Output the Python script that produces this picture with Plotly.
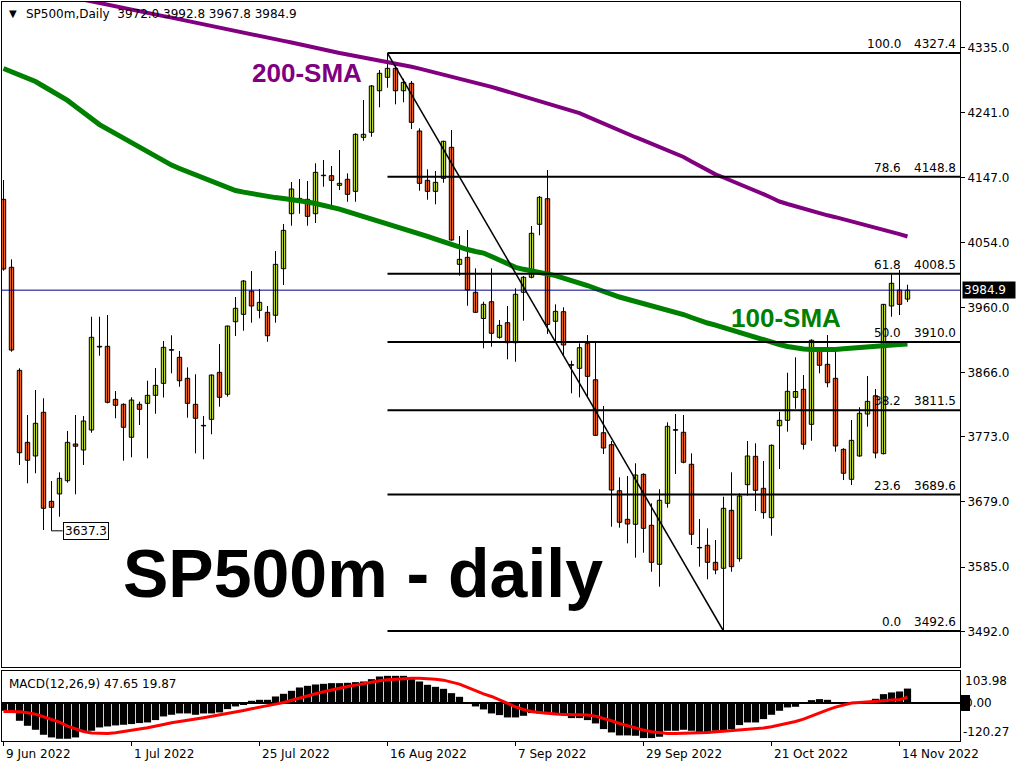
import plotly.graph_objects as go

# ── data ───────────────────────────────────────────────────────────────────
OPEN = [4116.1, 4017.9, 3869.1, 3765.1, 3745.4, 3808.5, 3679.9, 3690.5, 3709.7, 3762.7,
        3754.0, 3782.9, 3903.8, 3903.8, 3827.2, 3820.0, 3772.4, 3820.0, 3821.4, 3833.0,
        3850.3, 3899.0, 3887.9, 3857.6, 3820.0, 3789.6, 3798.3, 3866.2, 3834.5, 3939.3,
        3950.0, 3983.7, 3955.8, 3952.9, 3948.6, 4015.9, 4095.3, 4117.5, 4116.1, 4095.3,
        4150.9, 4150.2, 4136.3, 4145.0, 4127.6, 4205.6, 4212.9, 4272.9, 4292.3, 4305.3,
        4272.9, 4283.6, 4214.8, 4143.5, 4127.6, 4146.4, 4191.2, 4022.2, 4032.3, 3981.8,
        3943.9, 3968.2, 3916.8, 3937.9, 3909.0, 3981.8, 4003.5, 4080.0, 4117.0, 3939.9,
        3953.8, 3877.3, 3872.0, 3908.1, 3855.5, 3779.0, 3761.7, 3695.2, 3653.9, 3646.7,
        3718.9, 3645.3, 3588.9, 3677.0, 3783.4, 3779.6, 3733.4, 3613.3, 3616.4, 3591.8,
        3583.2, 3666.9, 3597.0, 3703.9, 3744.9, 3698.7, 3656.2, 3789.1, 3796.9, 3830.1,
        3841.7, 3791.1, 3896.6, 3877.8, 3857.6, 3755.0, 3711.7, 3745.4, 3806.0, 3832.4,
        3748.7, 3962.0, 3985.1, 3972.0]
HIGH = [4144.0, 4029.4, 3872.0, 3804.6, 3840.7, 3828.7, 3709.2, 3721.8, 3781.5, 3804.6,
        3803.1, 3946.5, 3946.5, 3949.0, 3839.2, 3821.4, 3830.1, 3823.8, 3854.1, 3872.4,
        3911.4, 3919.7, 3897.0, 3873.4, 3863.4, 3803.1, 3863.0, 3907.1, 3933.5, 3975.0,
        3999.5, 4012.5, 3986.5, 3962.0, 4041.4, 4080.4, 4141.1, 4145.4, 4142.5, 4168.1,
        4172.9, 4164.2, 4187.3, 4153.6, 4211.4, 4259.5, 4281.2, 4302.8, 4327.4, 4311.5,
        4290.3, 4287.0, 4218.6, 4159.4, 4157.0, 4200.7, 4216.2, 4063.1, 4071.7, 4016.4,
        3968.2, 4016.4, 3941.8, 3962.0, 3987.6, 4005.3, 4077.5, 4120.9, 4158.4, 3964.4,
        3960.1, 3883.0, 3908.1, 3920.1, 3909.0, 3817.6, 3767.0, 3714.6, 3716.5, 3734.8,
        3720.4, 3677.0, 3697.3, 3794.0, 3806.0, 3804.6, 3749.2, 3654.4, 3640.9, 3624.0,
        3686.6, 3721.8, 3691.5, 3767.0, 3763.7, 3738.1, 3762.0, 3809.3, 3865.6, 3887.9,
        3862.3, 3913.9, 3899.5, 3920.1, 3896.6, 3756.5, 3797.4, 3815.7, 3860.9, 3842.1,
        3964.9, 4009.2, 4014.0, 3992.8]
LOW = [4013.0, 3896.0, 3732.4, 3705.9, 3720.4, 3638.5, 3637.3, 3657.7, 3706.8, 3690.0,
       3732.4, 3779.0, 3890.2, 3821.4, 3799.8, 3738.6, 3743.5, 3790.1, 3742.0, 3806.4,
       3829.8, 3864.8, 3845.4, 3800.7, 3749.2, 3740.6, 3776.7, 3816.6, 3831.0, 3918.7,
       3926.3, 3937.9, 3944.2, 3910.4, 3937.9, 3992.3, 4078.0, 4095.3, 4078.0, 4081.9,
       4134.3, 4101.7, 4129.5, 4112.6, 4112.6, 4200.7, 4206.5, 4249.0, 4277.3, 4253.3,
       4256.2, 4217.6, 4128.5, 4115.5, 4108.9, 4140.1, 4056.3, 4005.8, 3962.4, 3951.9,
       3900.9, 3903.2, 3914.8, 3885.0, 3881.5, 3940.8, 4002.0, 4064.1, 3921.6, 3909.0,
       3891.2, 3835.9, 3830.1, 3830.1, 3774.2, 3748.2, 3643.2, 3641.8, 3619.2, 3598.5,
       3605.7, 3578.2, 3556.6, 3670.7, 3719.4, 3734.8, 3616.8, 3585.5, 3567.3, 3574.5,
       3492.6, 3578.2, 3592.7, 3688.0, 3665.9, 3654.8, 3630.2, 3726.6, 3780.5, 3813.6,
       3754.7, 3767.4, 3864.8, 3844.6, 3751.6, 3710.7, 3703.4, 3744.3, 3787.7, 3742.0,
       3747.8, 3946.5, 3949.0, 3967.8]
CLOSE = [4015.4, 3898.4, 3750.1, 3739.2, 3792.6, 3669.8, 3671.2, 3713.1, 3765.1, 3759.4,
         3795.9, 3916.8, 3902.8, 3822.9, 3818.6, 3786.8, 3826.2, 3812.8, 3833.0, 3847.4,
         3902.3, 3898.2, 3854.1, 3821.4, 3799.8, 3788.8, 3862.3, 3830.1, 3933.1, 3958.7,
         3998.1, 3962.0, 3967.3, 3919.1, 4022.2, 4071.3, 4131.0, 4116.1, 4091.5, 4155.1,
         4150.2, 4143.5, 4139.2, 4123.3, 4210.0, 4210.0, 4279.8, 4298.1, 4305.3, 4272.9,
         4285.1, 4227.3, 4139.2, 4127.6, 4140.6, 4199.9, 4057.3, 4029.4, 3985.1, 3952.9,
         3964.4, 3922.6, 3934.1, 3909.0, 3978.9, 4003.5, 4067.0, 4119.0, 3935.5, 3954.3,
         3905.7, 3876.5, 3901.8, 3860.4, 3775.2, 3756.9, 3696.2, 3649.6, 3647.1, 3717.9,
         3640.9, 3591.8, 3681.4, 3788.2, 3782.6, 3736.3, 3632.3, 3612.6, 3591.8, 3580.7,
         3669.8, 3585.5, 3687.6, 3745.4, 3695.8, 3663.5, 3760.8, 3796.9, 3838.8, 3838.5,
         3762.3, 3912.5, 3876.4, 3851.2, 3759.8, 3720.4, 3768.0, 3807.0, 3824.3, 3749.7,
         3964.4, 3994.8, 3964.4, 3984.9]

# 200-SMA is above the visible range for the first bars
SMA200 = [None] * 10 + [
    4404.4, 4401.9, 4399.6, 4397.2, 4394.7, 4392.4, 4389.9, 4387.6, 4385.3, 4383.0,
    4380.7, 4378.5, 4376.2, 4373.9, 4371.6, 4369.3, 4366.8, 4364.4, 4361.9, 4359.6,
    4357.2, 4354.7, 4352.4, 4350.0, 4347.3, 4344.9, 4342.5, 4339.8, 4337.4, 4334.8,
    4332.3, 4329.7, 4327.5, 4325.4, 4323.3, 4321.2, 4319.0, 4316.9, 4314.7, 4312.7,
    4310.4, 4307.6, 4304.9, 4302.1, 4299.2, 4296.5, 4293.7, 4290.9, 4288.1, 4285.2,
    4282.0, 4278.6, 4275.1, 4271.7, 4268.2, 4264.7, 4261.4, 4257.9, 4254.5, 4251.0,
    4247.6, 4244.1, 4240.6, 4235.5, 4230.4, 4225.0, 4219.7, 4214.9, 4210.4, 4205.8,
    4201.3, 4196.7, 4192.1, 4187.3, 4182.7, 4177.3, 4170.8, 4164.5, 4158.1, 4152.2,
    4147.6, 4143.0, 4138.6, 4134.0, 4128.8, 4123.5, 4118.3, 4112.9, 4109.3, 4105.9,
    4102.4, 4098.8, 4095.9, 4093.0, 4090.3, 4087.4, 4084.6, 4081.7, 4078.7, 4075.8,
    4072.8, 4069.3, 4065.8, 4062.4]
SMA100 = [4305.0, 4300.5, 4296.2, 4291.7, 4286.2, 4279.4, 4272.7, 4265.9, 4258.9, 4250.3,
          4241.5, 4232.8, 4224.0, 4217.4, 4211.0, 4204.6, 4198.1, 4191.5, 4184.7, 4177.9,
          4171.1, 4165.5, 4160.7, 4156.1, 4151.4, 4146.7, 4142.0, 4137.3, 4132.7, 4128.8,
          4126.5, 4124.3, 4122.0, 4119.7, 4118.6, 4117.4, 4116.2, 4114.4, 4112.2, 4110.0,
          4107.9, 4105.3, 4101.9, 4098.4, 4094.9, 4091.4, 4088.1, 4084.8, 4081.7, 4078.0,
          4074.2, 4070.6, 4066.7, 4062.5, 4058.5, 4054.4, 4050.1, 4046.5, 4043.6, 4040.7,
          4038.5, 4033.5, 4027.7, 4021.9, 4017.9, 4015.0, 4012.8, 4010.7, 4009.1, 4005.9,
          4002.4, 3999.1, 3995.8, 3991.6, 3987.3, 3982.9, 3978.6, 3975.0, 3971.8, 3968.9,
          3965.9, 3963.0, 3959.4, 3955.8, 3952.6, 3949.7, 3945.4, 3941.0, 3937.4, 3934.5,
          3930.9, 3927.3, 3923.3, 3919.4, 3915.8, 3912.2, 3909.3, 3906.4, 3903.5, 3901.3,
          3899.9, 3899.2, 3898.7, 3898.7, 3899.2, 3900.2, 3901.3, 3902.3, 3903.4, 3904.2,
          3905.1, 3905.7, 3906.4, 3907.1]

MACD = [-23.5, -28.8, -55.5, -71.5, -84.3, -100.3, -108.8, -113.1, -113.1, -108.8,
        -91.7, -87.5, -76.8, -73.6, -70.4, -68.3, -66.1, -62.9, -60.8, -53.3,
        -41.6, -36.3, -32.0, -32.0, -36.3, -32.0, -32.0, -28.8, -18.1, -9.6,
        -2.0, 8.5, 11.7, 11.7, 22.4, 30.9, 40.5, 51.2, 56.5, 60.8,
        62.9, 65.1, 65.1, 66.1, 68.3, 70.4, 77.9, 86.4, 88.5, 88.5,
        88.5, 77.9, 70.4, 59.7, 53.3, 46.9, 33.1, 21.3, 4.3, -9.6,
        -19.2, -32.0, -37.3, -44.8, -44.8, -39.5, -30.9, -32.0, -34.1, -34.1,
        -36.3, -46.9, -46.9, -53.3, -64.0, -82.1, -92.8, -102.4, -102.4, -103.5,
        -110.9, -110.9, -106.7, -87.5, -87.5, -84.3, -87.5, -92.8, -92.8, -87.5,
        -89.6, -82.1, -69.3, -60.8, -60.8, -50.1, -36.3, -23.5, -12.8, -10.7,
        3.2, 10.7, 13.9, 11.7, 4.3, -1.5, 1.0, 2.0, 4.0, 14.9,
        29.9, 35.2, 38.4, 47.65]
SIGNAL = [-25.6, -25.6, -26.7, -29.9, -34.1, -42.7, -51.2, -59.7, -72.5, -82.1,
          -89.6, -94.9, -96.0, -96.0, -93.9, -90.7, -85.3, -82.1, -77.9, -73.6,
          -67.2, -61.9, -58.7, -54.4, -50.1, -45.9, -41.6, -37.3, -32.0, -27.7,
          -22.4, -17.1, -12.8, -7.5, -2.1, 3.2, 10.7, 17.9, 24.5, 30.9,
          37.3, 43.7, 50.1, 54.4, 58.7, 64.0, 68.3, 72.5, 75.7, 77.9,
          80.0, 81.1, 81.1, 80.0, 77.9, 74.7, 69.3, 61.9, 51.2, 40.5,
          30.9, 22.4, 10.7, -0.5, -10.7, -19.2, -25.6, -28.8, -32.0, -34.1,
          -35.2, -35.2, -36.3, -37.3, -40.5, -46.9, -55.5, -64.0, -71.5, -78.9,
          -85.3, -90.7, -93.9, -96.0, -96.0, -96.0, -94.9, -93.9, -92.8, -90.7,
          -89.6, -87.5, -85.3, -84.3, -82.1, -78.9, -74.7, -69.3, -62.9, -57.6,
          -50.1, -39.5, -28.8, -20.3, -11.7, -4.3, 1.1, 3.2, 4.3, 6.4,
          8.5, 10.7, 11.7, 19.87]

FIB_PCT = [100.0, 78.6, 61.8, 50.0, 38.2, 23.6, 0.0]
FIB_LEVELS = [4327.4, 4148.8, 4008.5, 3910.0, 3811.5, 3689.6, 3492.6]

PRICE_TICKS = [4335.0, 4241.0, 4147.0, 4054.0, 3960.0, 3866.0, 3773.0, 3679.0, 3585.0, 3492.0]
MACD_LABELS = ["103.98", "0.00", "-120.27"]
DATE_IDX = [0, 16, 32, 48, 64, 80, 96, 112]
DATE_LABELS = ["9 Jun 2022", "1 Jul 2022", "25 Jul 2022", "16 Aug 2022",
               "7 Sep 2022", "29 Sep 2022", "21 Oct 2022", "14 Nov 2022"]

# ── style ─────────────────────────────────────────────────────────────────
UP = "#BDD630"
DOWN = "#EC5F23"
PURPLE = "#800080"
GREEN = "#008000"
NAVY = "#000080"
FONT = "DejaVu Sans"
BIG = "Liberation Sans"

W, H = 1024, 768
PL, PR, PT, PB = 2, 960, 2, 741       # plot area in px
MAIN_BOTTOM, MACD_TOP = 667, 671
X_RANGE = [-0.1875, 119.5625]
Y_RANGE = [3440.6, 4401.1]
MACD_RANGE = [-120.27, 103.98]


def px_x(p):
    return (p - PL) / (PR - PL)


def px_y(p):
    return (PB - p) / (PB - PT)


idx = list(range(len(OPEN)))

fig = go.Figure()

# wicks
wx, wy = [], []
for i in idx:
    wx += [i, i, None]
    wy += [LOW[i], HIGH[i], None]
fig.add_trace(go.Scatter(x=wx, y=wy, mode="lines", line=dict(color="black", width=1),
                         hoverinfo="skip", xaxis="x", yaxis="y"))

# bodies
up = [i for i in idx if CLOSE[i] >= OPEN[i]]
dn = [i for i in idx if CLOSE[i] < OPEN[i]]
fig.add_trace(go.Bar(x=up, y=[CLOSE[i] - OPEN[i] for i in up], base=[OPEN[i] for i in up],
                     width=0.55, marker=dict(color=UP, line=dict(color="black", width=1)),
                     xaxis="x", yaxis="y"))
fig.add_trace(go.Bar(x=dn, y=[OPEN[i] - CLOSE[i] for i in dn], base=[CLOSE[i] for i in dn],
                     width=0.55, marker=dict(color=DOWN, line=dict(color="black", width=1)),
                     xaxis="x", yaxis="y"))

# moving averages
fig.add_trace(go.Scatter(x=idx, y=SMA200, mode="lines", line=dict(color=PURPLE, width=4),
                         xaxis="x", yaxis="y"))
fig.add_trace(go.Scatter(x=idx, y=SMA100, mode="lines", line=dict(color=GREEN, width=5),
                         xaxis="x", yaxis="y"))

# MACD
fig.add_trace(go.Bar(x=idx, y=MACD, width=0.9, marker=dict(color="black", line=dict(width=0)),
                     xaxis="x2", yaxis="y2"))
fig.add_trace(go.Scatter(x=idx, y=SIGNAL, mode="lines", line=dict(color="#FF0000", width=3),
                         xaxis="x2", yaxis="y2"))

# ── fibonacci retracement ─────────────────────────────────────────────────
hi_i = max(idx, key=lambda i: HIGH[i])
lo_i = min(idx, key=lambda i: LOW[i])
shapes = []
annotations = []
for pct, lvl in zip(FIB_PCT, FIB_LEVELS):
    shapes.append(dict(type="line", xref="x", yref="y", x0=hi_i, x1=X_RANGE[1], y0=lvl, y1=lvl,
                       line=dict(color="black", width=2)))
    annotations.append(dict(xref="paper", yref="y", x=px_x(903), y=lvl, xanchor="right",
                            yanchor="bottom", text=f"{pct:.1f}", showarrow=False,
                            font=dict(family=FONT, size=12, color="black")))
    annotations.append(dict(xref="paper", yref="y", x=px_x(958), y=lvl, xanchor="right",
                            yanchor="bottom", text=f"{lvl:.1f}", showarrow=False,
                            font=dict(family=FONT, size=12, color="black")))
shapes.append(dict(type="line", xref="x", yref="y", x0=hi_i, y0=HIGH[hi_i], x1=lo_i, y1=LOW[lo_i],
                   line=dict(color="black", width=1.5)))

# current price line + tag
last = CLOSE[-1]
shapes.append(dict(type="line", xref="x domain", yref="y", x0=0, x1=1, y0=last, y1=last,
                   line=dict(color=NAVY, width=1)))
annotations.append(dict(xref="paper", yref="y", x=px_x(962), y=last, xanchor="left",
                        yanchor="middle", text=f"{last:.1f}", showarrow=False, bgcolor="black",
                        width=50, align="left", borderpad=1,
                        font=dict(family=FONT, size=12, color="white")))

# early swing-low label
sl = min(range(30), key=lambda i: LOW[i])
shapes.append(dict(type="line", xref="x", yref="y", x0=sl, x1=sl + 1.4, y0=LOW[sl], y1=LOW[sl],
                   line=dict(color="black", width=1)))
annotations.append(dict(xref="x", yref="y", x=sl + 1.4, y=LOW[sl], xanchor="left",
                        yanchor="middle", text=f"{LOW[sl]:.1f}", showarrow=False,
                        bgcolor="white", bordercolor="black", borderwidth=1, borderpad=1,
                        font=dict(family=FONT, size=12, color="black")))

# header texts
annotations.append(dict(xref="paper", yref="paper", x=px_x(7), y=px_y(14), xanchor="left",
                        yanchor="middle", text="▼", showarrow=False,
                        font=dict(family=FONT, size=10, color="black")))
annotations.append(dict(xref="paper", yref="paper", x=px_x(24), y=px_y(14), xanchor="left",
                        yanchor="middle", showarrow=False,
                        text=f"SP500m,Daily  {OPEN[-1]:.1f} {HIGH[-1]:.1f} {LOW[-1]:.1f} {CLOSE[-1]:.1f}",
                        font=dict(family=FONT, size=12, color="black")))
annotations.append(dict(xref="paper", yref="paper", x=px_x(7), y=px_y(684), xanchor="left",
                        yanchor="middle", showarrow=False,
                        text=f"MACD(12,26,9) {MACD[-1]:.2f} {SIGNAL[-1]:.2f}",
                        font=dict(family=FONT, size=12, color="black")))

# big labels
annotations.append(dict(xref="x", yref="y", x=37.9, y=4298.5, text="<b>200-SMA</b>",
                        showarrow=False, font=dict(family=BIG, size=26, color=PURPLE)))
annotations.append(dict(xref="x", yref="y", x=97.8, y=3944.7, text="<b>100-SMA</b>",
                        showarrow=False, font=dict(family=BIG, size=26, color=GREEN)))
annotations.append(dict(xref="x", yref="y", x=44.9, y=3576.3, text="<b>SP500m - daily</b>",
                        showarrow=False, font=dict(family=BIG, size=68, color="black")))

# MACD scale labels
shapes.append(dict(type="rect", xref="paper", yref="paper", x0=px_x(961), x1=px_x(970),
                   y0=px_y(711), y1=px_y(695), fillcolor="black", line=dict(width=0)))
for txt, ypx, xpx in zip(MACD_LABELS, [681, 703, 732], [963, 963, 961]):
    annotations.append(dict(xref="paper", yref="paper", x=px_x(xpx), y=px_y(ypx),
                            xanchor="left", yanchor="middle", text=txt, showarrow=False,
                            font=dict(family=FONT, size=12, color="black")))

# date labels start at their tick
for i, lab in zip(DATE_IDX, DATE_LABELS):
    annotations.append(dict(xref="x2", yref="paper", x=i, y=px_y(754), xanchor="left",
                            yanchor="middle", text=lab, showarrow=False,
                            font=dict(family=FONT, size=12, color="black")))

main_dom = [px_y(MAIN_BOTTOM), 1]
macd_dom = [0, px_y(MACD_TOP)]

fig.update_layout(
    width=W, height=H,
    margin=dict(l=PL, r=W - PR, t=PT, b=H - PB),
    paper_bgcolor="white", plot_bgcolor="white",
    showlegend=False, barmode="overlay",
    shapes=shapes, annotations=annotations,
    xaxis=dict(domain=[0, 1], range=X_RANGE, anchor="y", showgrid=False, zeroline=False,
               showticklabels=False, ticks="", showline=True, mirror=True,
               linecolor="black", linewidth=1),
    yaxis=dict(domain=main_dom, range=Y_RANGE, side="right", showgrid=False, zeroline=False,
               tickvals=PRICE_TICKS, ticktext=[f"{v:.1f}" for v in PRICE_TICKS],
               ticks="outside", ticklen=4, tickcolor="black",
               tickfont=dict(family=FONT, size=12, color="black"),
               showline=True, mirror=True, linecolor="black", linewidth=1),
    xaxis2=dict(domain=[0, 1], range=X_RANGE, anchor="y2", showgrid=False, zeroline=False,
                tickvals=DATE_IDX, showticklabels=False, ticks="outside", ticklen=4,
                tickcolor="black", showline=True, mirror=True, linecolor="black", linewidth=1),
    yaxis2=dict(domain=macd_dom, range=MACD_RANGE, side="right", showgrid=False,
                zeroline=True, zerolinecolor="black", zerolinewidth=2,
                showticklabels=False, ticks="",
                showline=True, mirror=True, linecolor="black", linewidth=1),
)

# the default page adds an 8px body margin; drop it so the figure sits at 0,0
fig.write_html("out.html", config={"displayModeBar": False},
               post_script="document.body.style.margin='0';")
